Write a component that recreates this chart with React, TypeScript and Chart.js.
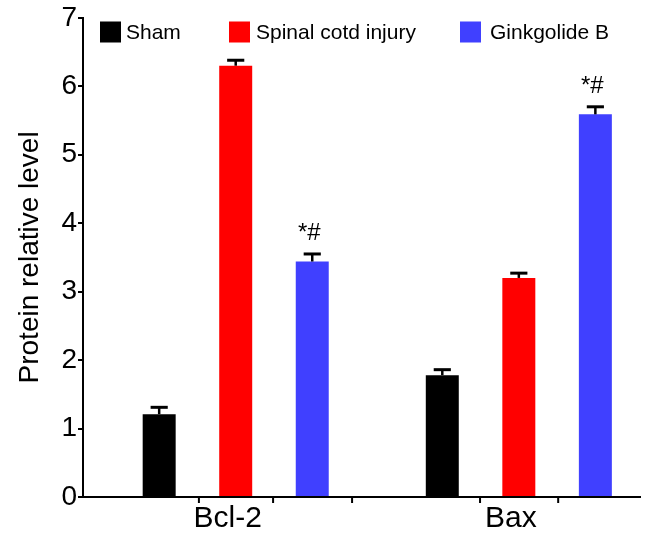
import React, { useEffect, useRef } from "react";
import { Chart, registerables } from "chart.js";

Chart.register(...registerables);

// ---- data ----
const categories = ["Bcl-2", "Bax"];
const categoryPositions = [1, 2];
const seriesNames = ["Sham", "Spinal cotd injury", "Ginkgolide B"];
const shamValues = [1.21, 1.78];
const injuryValues = [6.3, 3.2];
const ginkgolideValues = [3.44, 5.59];
const shamErrors = [0.1, 0.08];
const injuryErrors = [0.08, 0.07];
const ginkgolideErrors = [0.11, 0.11];
const shamMarks = ["", ""];
const injuryMarks = ["", ""];
const ginkgolideMarks = ["*#", "*#"];
const yTickValues = [0, 1, 2, 3, 4, 5, 6, 7];
const minorTickValues = [0.87, 1.132, 1.411, 1.863, 2.139];

const FONT = '"Liberation Sans", Arial, Helvetica, sans-serif';
const COLORS = ["#000000", "#ff0000", "#4040ff"];

const errorsBySeries = [shamErrors, injuryErrors, ginkgolideErrors];
const marksBySeries = [shamMarks, injuryMarks, ginkgolideMarks];

const overlayPlugin = {
  id: "overlay",
  afterDatasetsDraw(chart: any) {
    const ctx = chart.ctx as CanvasRenderingContext2D;
    const yScale = chart.scales.y;
    const xScale = chart.scales.x;
    ctx.save();
    ctx.strokeStyle = "#000";
    ctx.fillStyle = "#000";
    chart.data.datasets.forEach((ds: any, di: number) => {
      const meta = chart.getDatasetMeta(di);
      meta.data.forEach((bar: any, i: number) => {
        const v = ds.data[i].y;
        const e = errorsBySeries[di][i];
        const top = yScale.getPixelForValue(v + e);
        const half = bar.width * 0.26;
        ctx.lineWidth = 2.5;
        ctx.beginPath();
        ctx.moveTo(bar.x, bar.y);
        ctx.lineTo(bar.x, top);
        ctx.stroke();
        ctx.lineWidth = 3;
        ctx.beginPath();
        ctx.moveTo(bar.x - half, top);
        ctx.lineTo(bar.x + half, top);
        ctx.stroke();
        const mark = marksBySeries[di][i];
        if (mark) {
          ctx.font = `24px ${FONT}`;
          ctx.textAlign = "center";
          ctx.textBaseline = "alphabetic";
          ctx.fillText(mark, bar.x - 3, top - 14);
        }
      });
    });
    // minor x ticks
    const bottom = chart.chartArea.bottom;
    ctx.lineWidth = 2;
    minorTickValues.forEach((v) => {
      const x = xScale.getPixelForValue(v);
      ctx.beginPath();
      ctx.moveTo(x, bottom);
      ctx.lineTo(x, bottom + 6);
      ctx.stroke();
    });
    ctx.restore();
  },
  afterDraw(chart: any) {
    const ctx = chart.ctx as CanvasRenderingContext2D;
    ctx.save();
    const boxX = [100, 229, 460];
    const textX = [126, 256, 490];
    const cy = 32;
    const size = 21;
    ctx.font = `21px ${FONT}`;
    ctx.textAlign = "left";
    ctx.textBaseline = "middle";
    chart.data.datasets.forEach((ds: any, di: number) => {
      ctx.fillStyle = ds.backgroundColor;
      ctx.fillRect(boxX[di], cy - size / 2, size, size);
      ctx.fillStyle = "#000";
      ctx.fillText(ds.label, textX[di], cy + 1);
    });
    ctx.restore();
  },
};

export default function App() {
  const ref = useRef<HTMLCanvasElement | null>(null);

  useEffect(() => {
    document.body.style.margin = "0";
    const canvas = ref.current;
    if (!canvas) return;
    const seriesValues = [shamValues, injuryValues, ginkgolideValues];
    const chart = new Chart(canvas, {
      type: "bar",
      data: {
        datasets: seriesNames.map((name, di) => ({
          label: name,
          data: categoryPositions.map((x, i) => ({ x, y: seriesValues[di][i] })),
          backgroundColor: COLORS[di],
          borderWidth: 0,
          categoryPercentage: 0.811,
          barPercentage: 0.431,
        })),
      },
      options: {
        responsive: false,
        maintainAspectRatio: false,
        animation: false,
        devicePixelRatio: 1,
        layout: { padding: { top: 16, right: 5, left: 0, bottom: 0 } },
        plugins: {
          legend: { display: false },
          tooltip: { enabled: false },
        },
        scales: {
          x: {
            type: "linear",
            min: 0.4606,
            max: 2.428,
            offset: false,
            afterBuildTicks: (scale: any) => {
              scale.ticks = categoryPositions.map((v) => ({ value: v }));
            },
            afterFit: (scale: any) => {
              scale.height = 36;
            },
            ticks: {
              callback: (value: any) => categories[categoryPositions.indexOf(Number(value))] ?? "",
              font: { family: FONT, size: 30 },
              color: "#000",
              padding: 4,
              labelOffset: -8,
              maxRotation: 0,
              autoSkip: false,
            },
            grid: { display: true, drawOnChartArea: false, drawTicks: false, offset: false },
            border: { display: true, color: "#000", width: 2 },
          },
          y: {
            type: "linear",
            min: 0,
            max: 7,
            afterBuildTicks: (scale: any) => {
              scale.ticks = yTickValues.map((v) => ({ value: v }));
            },
            afterFit: (scale: any) => {
              scale.width = 83;
            },
            ticks: {
              font: { family: FONT, size: 28 },
              color: "#000",
              padding: 1,
            },
            grid: {
              display: true,
              drawOnChartArea: false,
              drawTicks: true,
              tickLength: 5,
              color: "#000",
              lineWidth: 2,
            },
            border: { display: true, color: "#000", width: 2 },
            title: {
              display: true,
              text: "Protein relative level",
              font: { family: FONT, size: 28 },
              color: "#000",
              padding: { top: 13, bottom: 0 },
            },
          },
        },
      },
      plugins: [overlayPlugin],
    });
    return () => chart.destroy();
  }, []);

  return (
    <div style={{ width: 645, height: 533 }}>
      <canvas ref={ref} width={645} height={533} />
    </div>
  );
}
